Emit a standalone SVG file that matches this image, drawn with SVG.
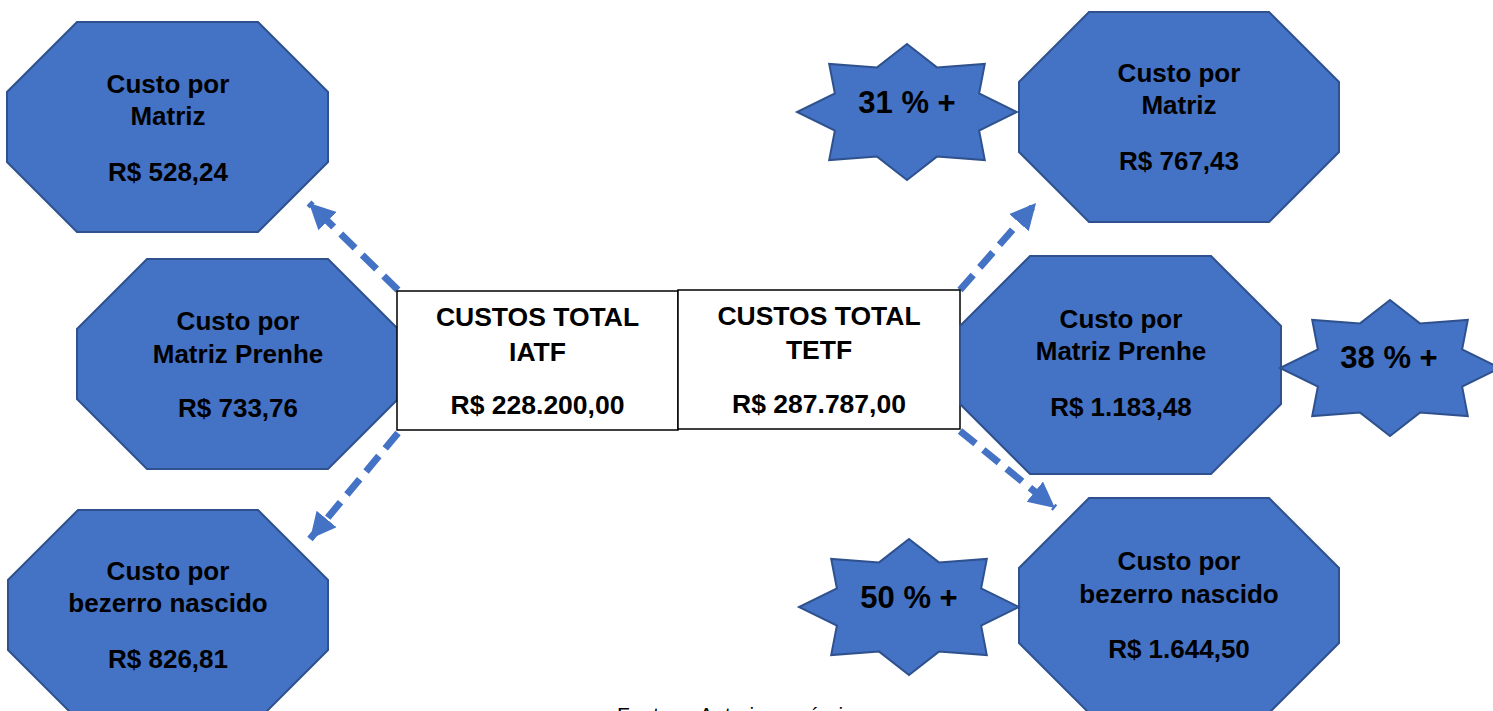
<svg xmlns="http://www.w3.org/2000/svg" xmlns:xlink="http://www.w3.org/1999/xlink" width="1493" height="711" viewBox="0 0 1493 711">
<style>
.shape{fill:#4472C4;stroke:#2F528F;stroke-width:2;stroke-linejoin:miter}
.box{fill:#FFFFFF;stroke:#000000;stroke-width:1.5}
.t{font-family:"Liberation Sans",Arial,sans-serif;font-weight:bold;font-size:26px;fill:#000;text-anchor:middle}
.bt{font-family:"Liberation Sans",Arial,sans-serif;font-weight:bold;font-size:26.5px;fill:#000;text-anchor:middle}
.st{font-family:"Liberation Sans",Arial,sans-serif;font-weight:bold;font-size:31px;fill:#000;text-anchor:middle}
.foot{font-family:"Liberation Sans",Arial,sans-serif;font-size:21px;fill:#000}
.arrow{fill:none;stroke:#4472C4;stroke-width:7;stroke-dasharray:20 10;marker-end:url(#head)}
</style>
<defs>
<marker id="head" markerUnits="userSpaceOnUse" markerWidth="30" markerHeight="30" refX="26" refY="13" orient="auto">
<path d="M0,0 L26,13 L0,26 Z" fill="#4472C4"/>
</marker>
<polygon id="star" class="shape" points="0,-68 29.9,-44.6 77.8,-48.1 72.1,-18.5 110,0 72.1,18.5 77.8,48.1 29.9,44.6 0,68 -29.9,44.6 -77.8,48.1 -72.1,18.5 -110,0 -72.1,-18.5 -77.8,-48.1 -29.9,-44.6"/>
</defs>
<rect width="1493" height="711" fill="#FFFFFF"/>

<g id="connectors">
<line class="arrow" x1="398" y1="290" x2="309" y2="203"/>
<line class="arrow" x1="398" y1="433" x2="310" y2="539"/>
<line class="arrow" x1="960" y1="290" x2="1036" y2="203"/>
<line class="arrow" x1="960" y1="431" x2="1055" y2="508"/>
</g>

<g id="iatf-matriz">
<polygon class="shape" points="77,22 258,22 328,92 328,162 258,232 77,232 7,162 7,92"/>
<text class="t" x="168" y="93">Custo por</text>
<text class="t" x="168" y="125">Matriz</text>
<text class="t" x="168" y="181">R$ 528,24</text>
</g>

<g id="iatf-prenhe">
<polygon class="shape" points="147,259 328,259 398,329 398,399 328,469 147,469 77,399 77,329"/>
<text class="t" x="238" y="330">Custo por</text>
<text class="t" x="238" y="363">Matriz Prenhe</text>
<text class="t" x="238" y="417">R$ 733,76</text>
</g>

<g id="iatf-bezerro">
<polygon class="shape" points="78,510 258,510 328,580 328,650 258,720 78,720 8,650 8,580"/>
<text class="t" x="168" y="580">Custo por</text>
<text class="t" x="168" y="612">bezerro nascido</text>
<text class="t" x="168" y="668">R$ 826,81</text>
</g>

<g id="total-iatf">
<rect class="box" x="397" y="291" width="281" height="139"/>
<text class="bt" x="537.5" y="326">CUSTOS TOTAL</text>
<text class="bt" x="537.5" y="361">IATF</text>
<text class="bt" x="537.5" y="414">R$ 228.200,00</text>
</g>

<g id="total-tetf">
<rect class="box" x="678" y="290" width="282" height="139"/>
<text class="bt" x="819" y="325">CUSTOS TOTAL</text>
<text class="bt" x="819" y="359">TETF</text>
<text class="bt" x="819" y="413">R$ 287.787,00</text>
</g>

<g id="tetf-matriz">
<polygon class="shape" points="1089,12 1269,12 1339,82 1339,152 1269,222 1089,222 1019,152 1019,82"/>
<text class="t" x="1179" y="82">Custo por</text>
<text class="t" x="1179" y="114">Matriz</text>
<text class="t" x="1179" y="170">R$ 767,43</text>
</g>

<g id="tetf-prenhe">
<polygon class="shape" points="1030,256 1211,256 1281,326 1281,404 1211,474 1030,474 960,404 960,326"/>
<text class="t" x="1121" y="328">Custo por</text>
<text class="t" x="1121" y="360">Matriz Prenhe</text>
<text class="t" x="1121" y="416">R$ 1.183,48</text>
</g>

<g id="tetf-bezerro">
<polygon class="shape" points="1089,498 1269,498 1339,568 1339,643 1269,713 1089,713 1019,643 1019,568"/>
<text class="t" x="1179" y="570">Custo por</text>
<text class="t" x="1179" y="603">bezerro nascido</text>
<text class="t" x="1179" y="658">R$ 1.644,50</text>
</g>

<g id="star-31">
<use xlink:href="#star" href="#star" x="907" y="112"/>
<text class="st" x="907" y="113">31 % +</text>
</g>

<g id="star-38">
<use xlink:href="#star" href="#star" x="1390" y="368"/>
<text class="st" x="1389" y="368">38 % +</text>
</g>

<g id="star-50">
<use xlink:href="#star" href="#star" x="909" y="607"/>
<text class="st" x="909" y="608">50 % +</text>
</g>

<text class="foot" x="617" y="722" word-spacing="18">Fonte: Autoria própria</text>
</svg>
